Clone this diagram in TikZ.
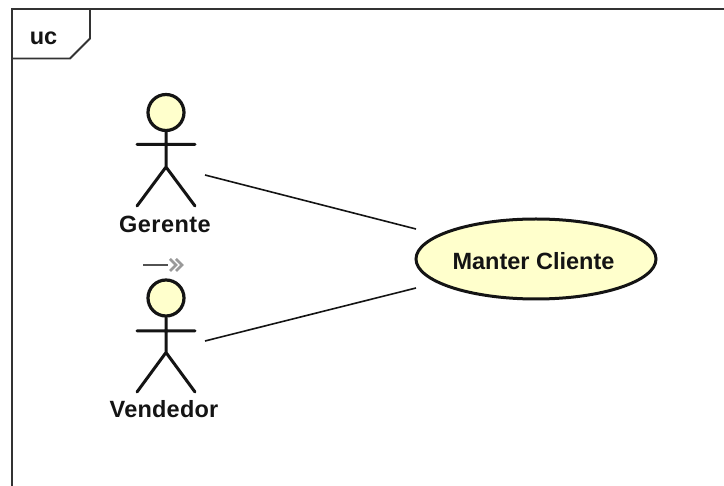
\documentclass[tikz,border=0pt]{standalone}
\usepackage{fontspec}
\setmainfont{Liberation Sans}
\usetikzlibrary{shapes.geometric}
\definecolor{ucfill}{HTML}{FFFFCC}
\definecolor{ucline}{HTML}{141414}
\definecolor{frameline}{HTML}{333333}
\tikzset{
  framepath/.style={draw=frameline,line width=1.9pt},
  actorhead/.style={circle,draw=ucline,fill=ucfill,line width=3.2pt,minimum size=36pt,inner sep=0pt},
  actorline/.style={draw=ucline,line width=3pt,line cap=round},
  namelabel/.style={inner sep=0pt,font=\bfseries\fontsize{23.5}{25}\selectfont,text=ucline},
  usecase/.style={ellipse,draw=ucline,fill=ucfill,line width=3pt,minimum width=240pt,minimum height=80pt,inner sep=0pt},
  assoc/.style={draw=ucline,line width=1.6pt}
}
\begin{document}
\begin{tikzpicture}[x=1pt,y=-1pt]
\useasboundingbox (0,0) rectangle (724,486);
\fill[white] (0,0) rectangle (724,486);
% frame
\draw[framepath] (724,9) -- (12,9) -- (12,486);
\draw[framepath] (90,9) -- (90,38.5) -- (70,58.5) -- (12,58.5);
\node[namelabel] (tab) at (43.5,38.5) {uc};
% Gerente
\node[actorhead] (gh) at (166,112.5) {};
\coordinate (gb) at (166,167);
\coordinate (ga1) at (137,144.5);
\coordinate (ga2) at (195,144.5);
\coordinate (gl1) at (137,206);
\coordinate (gl2) at (195,206);
\draw[actorline] (gh) -- (gb) (ga1) -- (ga2) (gl1) -- (gb) -- (gl2);
\node[namelabel] (gn) at (165,224) {\addfontfeatures{LetterSpace=2}Gerente};
% Vendedor
\node[actorhead] (vh) at (166,298) {};
\coordinate (vb) at (166,352.5);
\coordinate (va1) at (137,331);
\coordinate (va2) at (195,331);
\coordinate (vl1) at (137,392);
\coordinate (vl2) at (195,392);
\draw[actorline] (vh) -- (vb) (va1) -- (va2) (vl1) -- (vb) -- (vl2);
\node[namelabel] (vn) at (164,409) {\addfontfeatures{LetterSpace=1}Vendedor};
% stereotype mark
\coordinate (m1) at (143,265);
\coordinate (m2) at (168,265);
\draw[draw=frameline!85,line width=2.4pt] (m1) -- (m2);
\draw[draw=gray!80,line width=2.6pt] (170,259) -- (176,265) -- (170,271) (176,259) -- (182,265) -- (176,271);
% use case
\node[usecase] (uc) at (536,259) {};
\node[namelabel] (uct) at (533.5,261) {Manter Cliente};
\coordinate (g0) at (205,175);
\coordinate (v0) at (205,341);
\coordinate (u1) at (416,229);
\coordinate (u2) at (416,288);
\draw[assoc] (g0) -- (u1);
\draw[assoc] (v0) -- (u2);
\end{tikzpicture}
\end{document}
